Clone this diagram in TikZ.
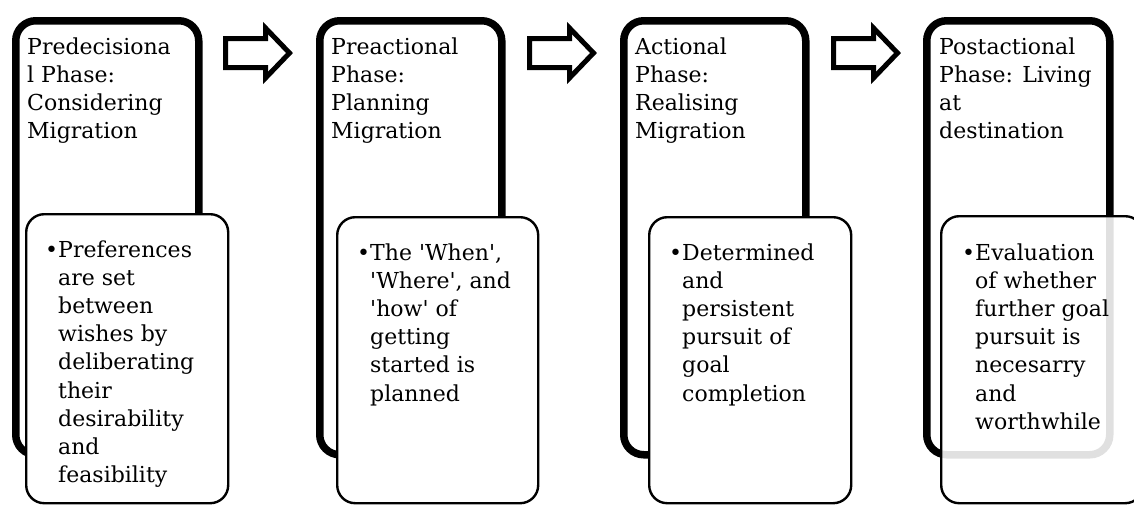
\documentclass[tikz,border=0pt]{standalone}
\usepackage{fontspec}
\setmainfont{DejaVu Serif}
\newcommand\phasefont{\fontsize{22}{28.2}\selectfont}
\newcommand\bul{\llap{\textbullet}}
\newcommand\sq{\textquotesingle}
\tikzset{
  phasebox/.style={draw, line width=7.5pt, rounded corners=20pt, fill=white,
    anchor=north west, inner sep=0pt},
  detailbox/.style={draw, line width=2.4pt, rounded corners=18pt, fill=white,
    anchor=north west, inner sep=0pt},
  % multi-line nodes are placed by the baseline of their last line
  phasetitle/.style={anchor=base west, align=left, inner sep=0pt, font=\phasefont},
  phasedetail/.style={anchor=base west, align=left, inner sep=0pt, font=\phasefont},
  flowarrow/.style={draw, line width=5pt, fill=white, miter limit=10}
}
\begin{document}
\begin{tikzpicture}[x=1pt, y=-1pt]
  \useasboundingbox (0,0) rectangle (1134,504);

  % outer phase frames
  \node[phasebox, minimum width=183pt, minimum height=434pt] (p1) at (12,17) {};
  \node[phasebox, minimum width=182pt, minimum height=434pt] (p2) at (316,17) {};
  \node[phasebox, minimum width=182pt, minimum height=434pt] (p3) at (620,17) {};
  \node[phasebox, minimum width=183pt, minimum height=434pt] (p4) at (923,17) {};

  % phase titles (four lines, first baseline at y=54)
  \node[phasetitle] (t1) at (27,138.6) {Predecisiona\\l Phase:\\Considering\\Migration};
  \node[phasetitle] (t2) at (331,138.6) {Preactional\\Phase:\\Planning\\Migration};
  \node[phasetitle] (t3) at (635,138.6) {Actional\\Phase:\\Realising\\Migration};
  \node[phasetitle] (t4) at (939,138.6) {Postactional\\Phase: Living\\at\\destination};

  % detail cards
  \node[detailbox, minimum width=202pt, minimum height=289pt] (d1) at (25,213) {};
  \node[detailbox, minimum width=201pt, minimum height=286pt] (d2) at (336,216) {};
  \node[detailbox, minimum width=202pt, minimum height=286pt] (d3) at (648,216) {};
  \node[detailbox, fill opacity=0.88, minimum width=202pt, minimum height=287pt] (d4) at (940,215) {};

  % detail texts
  \node[phasedetail] (b1) at (58,482.6) {\bul Preferences\\are set\\between\\wishes by\\deliberating\\their\\desirability\\and\\feasibility};
  \node[phasedetail] (b2) at (370,401) {\bul The \sq When\sq,\\\sq Where\sq, and\\\sq how\sq{} of\\getting\\started is\\planned};
  \node[phasedetail] (b3) at (682,401) {\bul Determined\\and\\persistent\\pursuit of\\goal\\completion};
  \node[phasedetail] (b4) at (975,429.2) {\bul Evaluation\\of whether\\further goal\\pursuit is\\necesarry\\and\\worthwhile};

  % block arrows between phases
  \foreach \x in {225.5,529.5,833.5}
    \draw[flowarrow] (\x,38.5) -- ++(40,0) -- ++(0,-10.5) -- ++(24,25)
      -- ++(-24,25) -- ++(0,-10.5) -- ++(-40,0) -- cycle;
\end{tikzpicture}
\end{document}
